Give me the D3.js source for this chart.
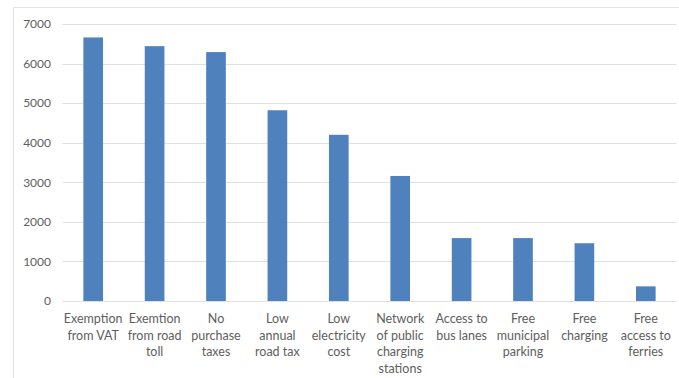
<!DOCTYPE html>
<html>
<head>
<meta charset="utf-8">
<script src="https://cdn.jsdelivr.net/npm/d3@7"></script>
<style>
  html, body { margin: 0; padding: 0; background: #fff; }
  svg { display: block; }
  text { font-family: Lato, "Open Sans", sans-serif; fill: #5e5e5e; }
</style>
</head>
<body>
<svg id="chart" width="679" height="378"></svg>
<script>
// Incentive categories (each label split into its wrapped lines)
const categories = [
  ["Exemption", "from VAT"],
  ["Exemtion", "from road", "toll"],
  ["No", "purchase", "taxes"],
  ["Low", "annual", "road tax"],
  ["Low", "electricity", "cost"],
  ["Network", "of public", "charging", "stations"],
  ["Access to", "bus lanes"],
  ["Free", "municipal", "parking"],
  ["Free", "charging"],
  ["Free", "access to", "ferries"]
];
const values = [6660, 6440, 6290, 4820, 4200, 3160, 1590, 1590, 1460, 370];
const yTicks = [0, 1000, 2000, 3000, 4000, 5000, 6000, 7000];

const svg = d3.select("#chart");
const W = 679, H = 378;
const plot = { left: 62.5, right: 676.5, top: 24, bottom: 301 };

// Outer chart frame
svg.append("rect")
  .attr("x", 13.5).attr("y", 7.5)
  .attr("width", W).attr("height", H)
  .attr("fill", "none").attr("stroke", "#e3e3e3").attr("stroke-width", 1);

const x = d3.scaleBand()
  .domain(d3.range(categories.length))
  .range([plot.left, plot.right])
  .paddingInner(0.68)
  .paddingOuter(0.34);

const y = d3.scaleLinear()
  .domain([0, 7000])
  .range([plot.bottom, plot.top]);

// Horizontal gridlines
svg.append("g")
  .selectAll("line")
  .data(yTicks)
  .join("line")
  .attr("x1", plot.left).attr("x2", plot.right)
  .attr("y1", d => Math.round(y(d)) + 0.5)
  .attr("y2", d => Math.round(y(d)) + 0.5)
  .attr("stroke", "#e0e0e0").attr("stroke-width", 1.2);

// Y axis labels
const yAxis = d3.axisLeft(y).tickValues(yTicks).tickSize(0).tickPadding(0)
  .tickFormat(d3.format("d"));
const gy = svg.append("g")
  .attr("transform", `translate(${51},0)`)
  .call(yAxis);
gy.select(".domain").remove();
gy.selectAll("text")
  .style("font-size", "12px")
  .style("font-family", "Lato, sans-serif")
  .attr("fill", "#5e5e5e");

// Bars
svg.append("g")
  .selectAll("rect")
  .data(values)
  .join("rect")
  .attr("x", (d, i) => x(i))
  .attr("width", x.bandwidth())
  .attr("y", d => y(d))
  .attr("height", d => y(0) - y(d))
  .attr("fill", "#4f81bd");

// Category labels, wrapped over several lines
const lab = svg.append("g")
  .selectAll("text")
  .data(categories)
  .join("text")
  .attr("text-anchor", "middle")
  .attr("x", (d, i) => x(i) + x.bandwidth() / 2)
  .attr("y", 323)
  .style("font-size", "12.5px");
lab.selectAll("tspan")
  .data(d => d)
  .join("tspan")
  .attr("x", function () { return this.parentNode.getAttribute("x"); })
  .attr("dy", (d, i) => i === 0 ? 0 : 16.5)
  .text(d => d);
</script>
</body>
</html>
